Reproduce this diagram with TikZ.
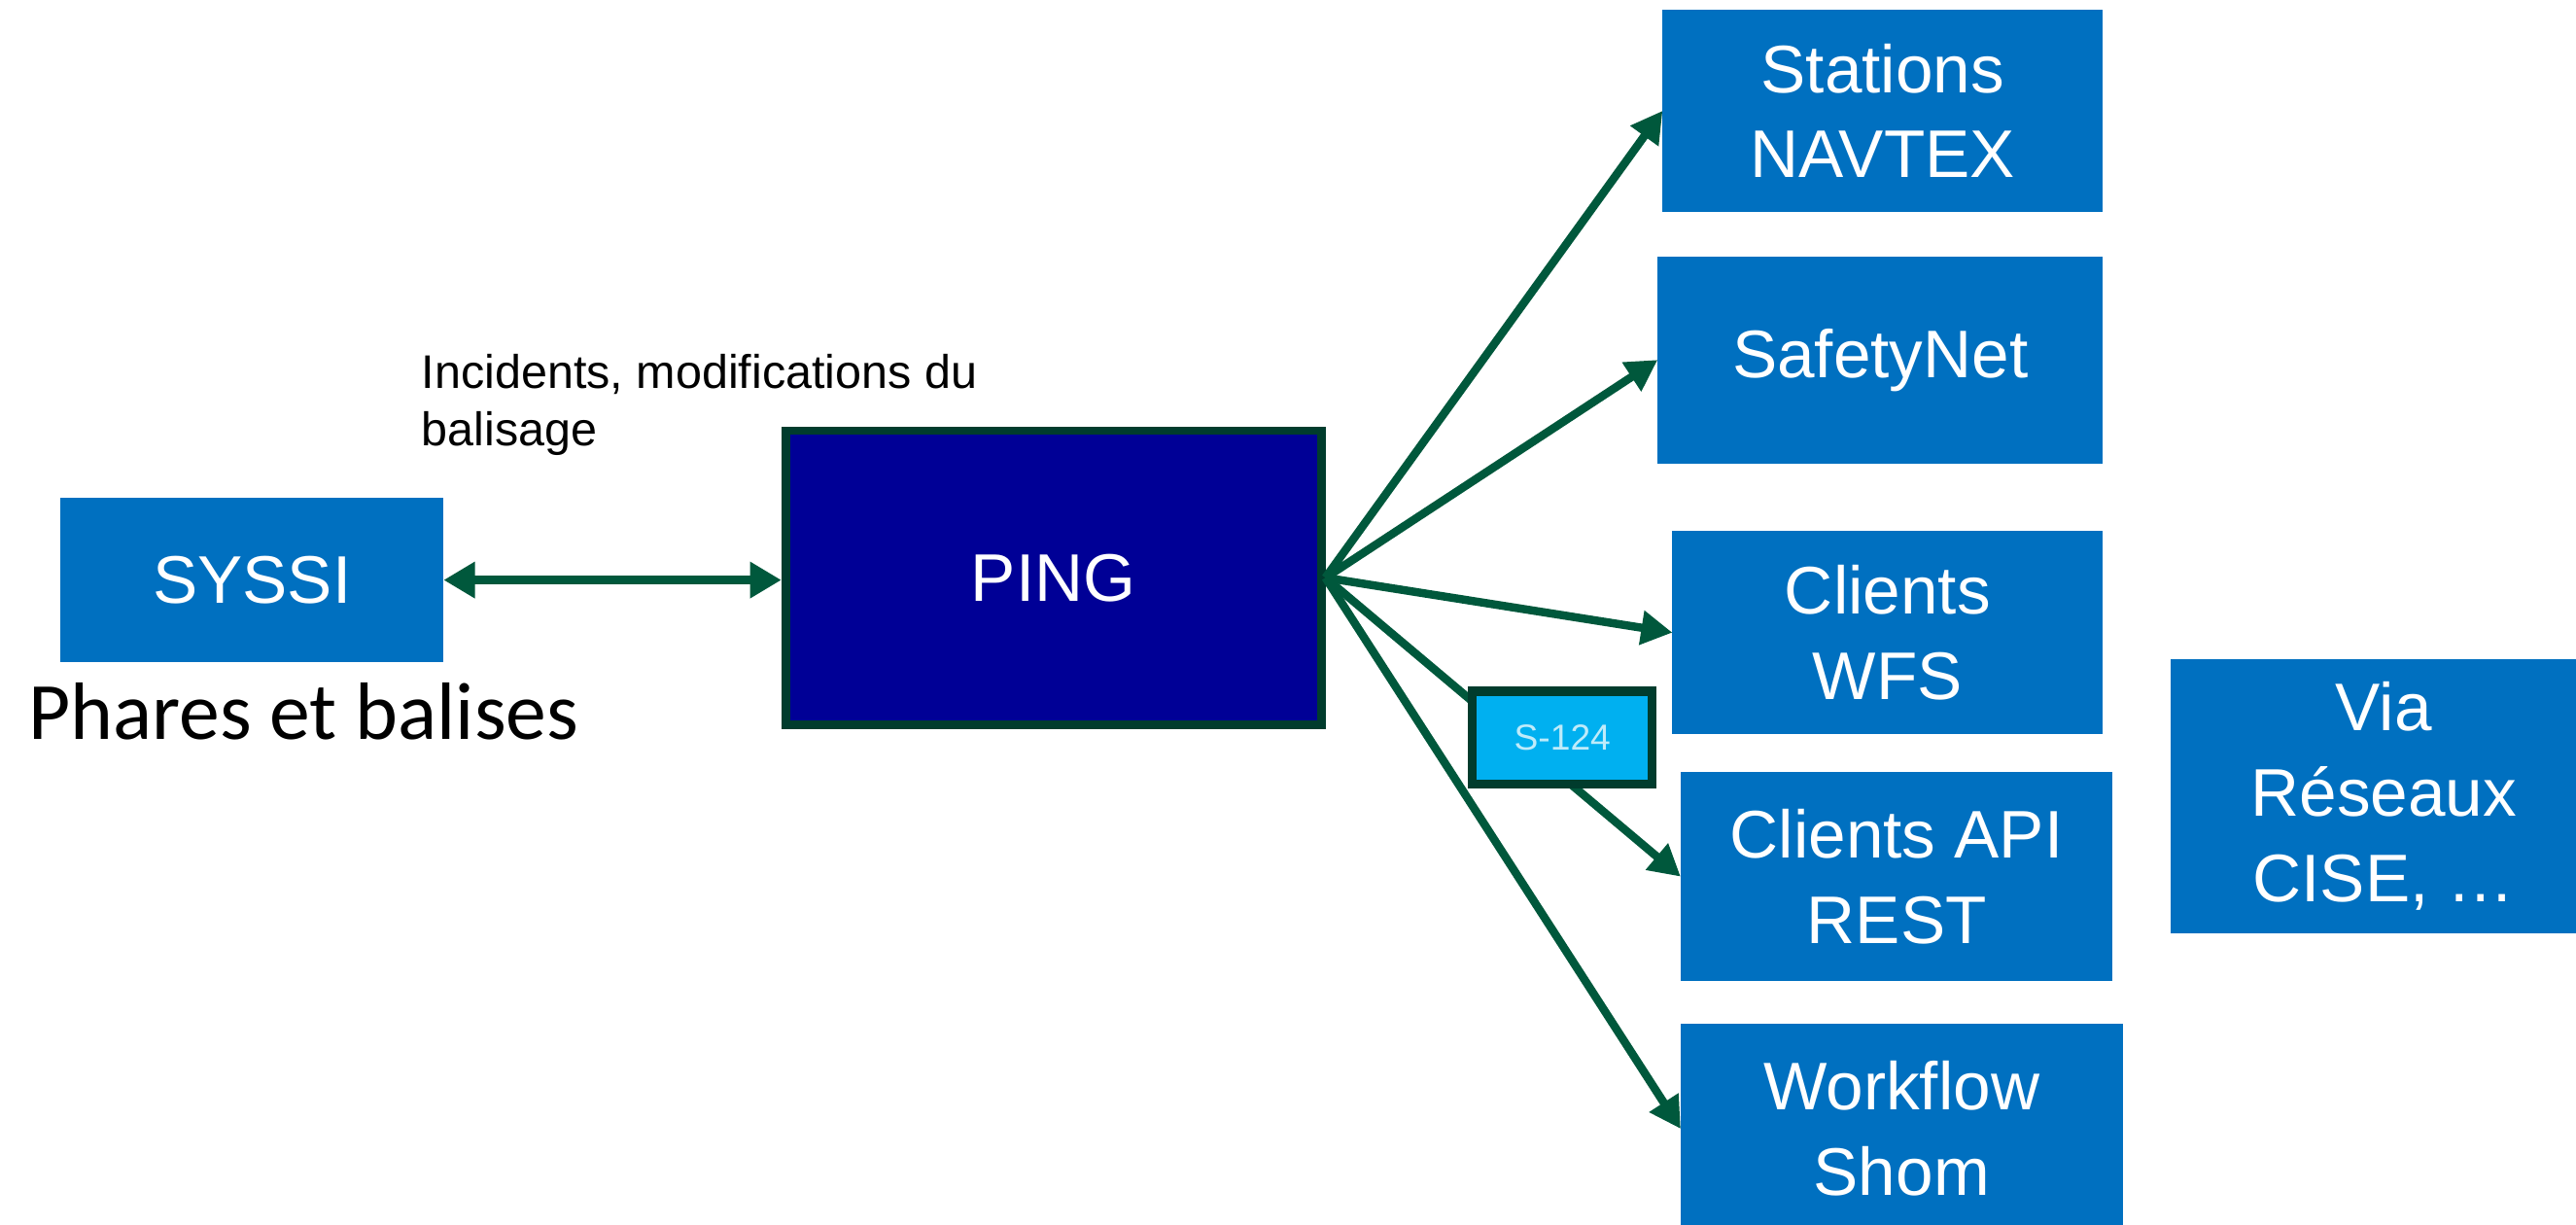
\documentclass[tikz,border=0pt]{standalone}
\usepackage{fontspec}
\setmainfont{Liberation Sans}
\newfontfamily\carlito{Carlito}
\usetikzlibrary{arrows.meta}
\definecolor{boxblue}{RGB}{0,112,192}
\definecolor{pingblue}{RGB}{0,0,150}
\definecolor{darkborder}{RGB}{0,60,45}
\definecolor{arrowgreen}{RGB}{0,88,60}
\definecolor{sfill}{RGB}{0,176,240}
\definecolor{stext}{RGB}{190,235,250}
\begin{document}
\begin{tikzpicture}[x=1pt,y=-1pt,
  bluebox/.style={fill=boxblue, text=white, inner sep=0pt, outer sep=0pt, align=center,
    font=\fontsize{41}{52}\selectfont},
  link/.style={draw=arrowgreen, line width=5pt, -{Triangle[length=19pt,width=20pt]}},
  twoway/.style={draw=arrowgreen, line width=5.5pt,
    {Triangle[length=19pt,width=21pt]}-{Triangle[length=19pt,width=21pt]}},
]
\useasboundingbox (0,0) rectangle (1568,745);
\clip (0,0) rectangle (1568,745);

% left side
\node[bluebox, minimum width=233.3pt, minimum height=100pt] (syssi) at (153.4,353) {SYSSI};
\node[anchor=base west, inner sep=0pt, font=\carlito\fontsize{49.5}{58}\selectfont] (phares) at (17,449.7) {Phares et balises};
\node[anchor=north west, inner sep=0pt, align=left, font=\fontsize{28.7}{35}\selectfont] (lbl) at (256.4,215.5) {Incidents, modifications du\\balisage};

% central
\node[fill=pingblue, draw=darkborder, line width=5.2pt, text=white, inner sep=0pt,
  font=\fontsize{41}{52}\selectfont, minimum width=326pt, minimum height=179pt] (ping) at (641.2,351.6) {PING};

% right column
\node[bluebox, minimum width=268pt, minimum height=123.3pt] (navtex) at (1146,67.4) {Stations\\NAVTEX};
\node[bluebox, minimum width=271pt, minimum height=126pt] (safety) at (1144.5,219) {SafetyNet};
\node[bluebox, minimum width=262pt, minimum height=124pt] (wfs) at (1149,385) {Clients\\WFS};
\node[bluebox, minimum width=263pt, minimum height=127pt] (api) at (1154.5,533.5) {Clients API\\REST};
\node[bluebox, minimum width=269pt, minimum height=128pt] (workflow) at (1157.5,687) {Workflow\\Shom};
\node[bluebox, minimum width=260pt, minimum height=167pt] (via) at (1451,484.5) {Via\\Réseaux\\CISE, …};

% connectors
\draw[twoway] (syssi.east) -- (syssi.east -| ping.west);
\draw[link] (ping.east) -- (navtex.west);
\draw[link] (ping.east) -- (safety.west);
\draw[link] (ping.east) -- (wfs.west);
\draw[link] (ping.east) -- (api.west);
\draw[link] (ping.east) -- (workflow.west);

% S-124 tag on top of the API link
\node[fill=sfill, draw=darkborder, line width=5.5pt, text=stext, inner sep=0pt,
  font=\fontsize{22}{26}\selectfont, minimum width=109.5pt, minimum height=56.5pt] (s124) at (951,449) {S-124};
\end{tikzpicture}
\end{document}
